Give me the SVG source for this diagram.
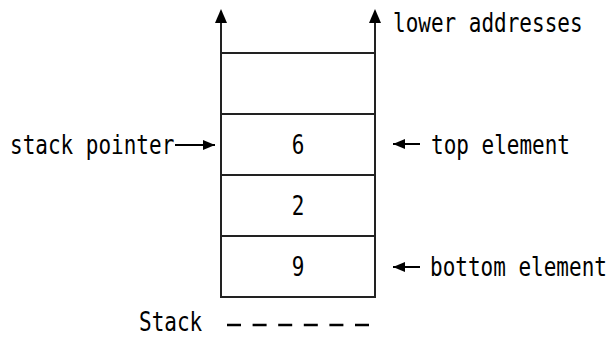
<svg xmlns="http://www.w3.org/2000/svg" width="611" height="337" viewBox="0 0 611 337">
  <style>
    .t { font-family: "DejaVu Sans Mono", "Liberation Mono", monospace; font-size: 21px; fill: #000; }
    .c { text-anchor: middle; }
    .ln { stroke: #222; stroke-width: 2; fill: none; }
    .arr { stroke: #000; stroke-width: 2; fill: none; }
    .head { fill: #000; stroke: none; }
  </style>
  <defs>
    <marker id="ah" markerWidth="12" markerHeight="10" refX="12" refY="5" orient="auto" markerUnits="userSpaceOnUse">
      <path d="M0,0 L12,5 L0,10 Z" class="head"/>
    </marker>
  </defs>

  <g id="stack">
    <line class="ln" x1="221" y1="20" x2="221" y2="298"/>
    <line class="ln" x1="375" y1="20" x2="375" y2="298"/>
    <line class="ln" x1="221" y1="297" x2="375" y2="297"/>
  </g>
  <g id="cell-empty-1">
    <line class="ln" x1="221" y1="53" x2="375" y2="53"/>
  </g>
  <g id="cell-empty-2">
    <line class="ln" x1="221" y1="114" x2="375" y2="114"/>
  </g>
  <g id="cell-6">
    <line class="ln" x1="221" y1="175" x2="375" y2="175"/>
    <text class="t c" transform="translate(298,154) scale(1,1.24)">6</text>
  </g>
  <g id="cell-2">
    <line class="ln" x1="221" y1="236" x2="375" y2="236"/>
    <text class="t c" transform="translate(298,215) scale(1,1.24)">2</text>
  </g>
  <g id="cell-9">
    <text class="t c" transform="translate(298,276) scale(1,1.24)">9</text>
  </g>

  <g id="label-lower">
    <text class="t" transform="translate(393,32) scale(1,1.24)">lower addresses</text>
  </g>
  <g id="label-sp">
    <text class="t" transform="translate(10,154) scale(1,1.24)">stack pointer</text>
  </g>
  <g id="label-top">
    <text class="t" transform="translate(431,154) scale(1,1.24)">top element</text>
  </g>
  <g id="label-bottom">
    <text class="t" transform="translate(430,276) scale(1,1.24)">bottom element</text>
  </g>
  <g id="label-stack">
    <text class="t" transform="translate(139,331) scale(1,1.24)">Stack</text>
    <line x1="227" y1="325" x2="369" y2="325" stroke="#000" stroke-width="2.5" stroke-dasharray="14 11.6"/>
  </g>

  <g id="connectors">
    <path class="head" d="M221,9 L215,23 L227,23 Z"/>
    <path class="head" d="M375,9 L369,23 L381,23 Z"/>
    <line class="arr" x1="175" y1="145" x2="215" y2="145" marker-end="url(#ah)"/>
    <line class="arr" x1="420" y1="144" x2="393" y2="144" marker-end="url(#ah)"/>
    <line class="arr" x1="420" y1="267" x2="393" y2="267" marker-end="url(#ah)"/>
  </g>
</svg>
